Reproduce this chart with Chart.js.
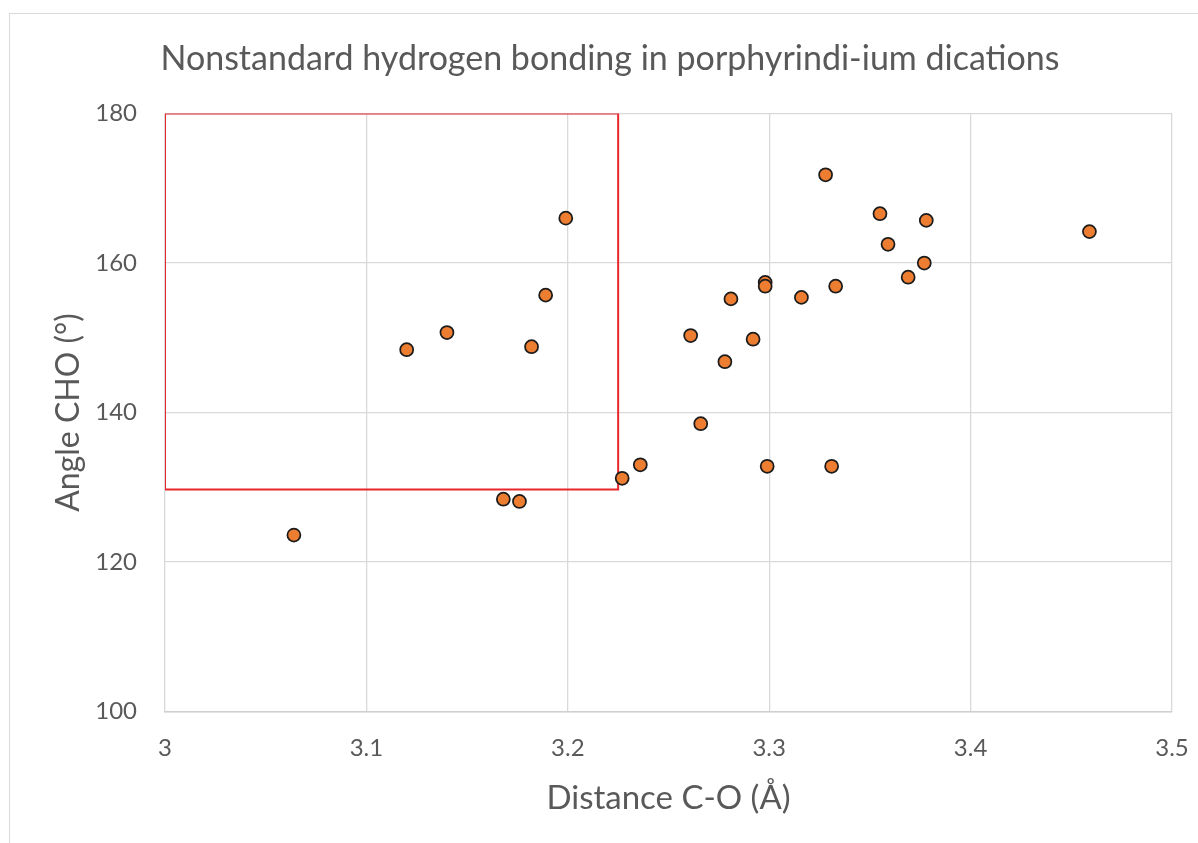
<!DOCTYPE html>
<html>
<head>
<meta charset="utf-8">
<title>Nonstandard hydrogen bonding in porphyrindi-ium dications</title>
<script src="https://cdn.jsdelivr.net/npm/chart.js@4.4.1/dist/chart.umd.min.js"></script>
<style>
  html, body { margin: 0; padding: 0; background: #ffffff; overflow: hidden; }
  #frame {
    position: absolute; left: 9px; top: 13px; width: 1300px; height: 900px;
    border: 1.5px solid #d9d9d9; box-sizing: border-box;
  }
  #chart { position: absolute; left: 0; top: 0; }
</style>
</head>
<body>
<div id="frame"></div>
<canvas id="chart" width="1198" height="843"></canvas>
<script>
// C-O distance (Å) and C-H...O angle (°) for each contact
const distanceCO = [3.064, 3.120, 3.140, 3.168, 3.176, 3.182, 3.189, 3.199, 3.227, 3.236,
                    3.261, 3.266, 3.278, 3.281, 3.292, 3.298, 3.298, 3.299, 3.316, 3.328,
                    3.331, 3.333, 3.355, 3.359, 3.369, 3.377, 3.378, 3.459];
const angleCHO   = [123.6, 148.4, 150.7, 128.4, 128.1, 148.8, 155.7, 166.0, 131.2, 133.0,
                    150.3, 138.5, 146.8, 155.2, 149.8, 157.4, 156.9, 132.8, 155.4, 171.8,
                    132.8, 156.9, 166.6, 162.5, 158.1, 160.0, 165.7, 164.2];

// Region outlined in red: distance range and angle range
const regionDistance = [3.0, 3.225];
const regionAngle = [129.7, 180];

const xTickLabels = ['3', '3.1', '3.2', '3.3', '3.4', '3.5'];
const yTickLabels = ['100', '120', '140', '160', '180'];

const points = distanceCO.map((d, i) => ({ x: d, y: angleCHO[i] }));
const regionOutline = [
  { x: regionDistance[0], y: regionAngle[1] },
  { x: regionDistance[1], y: regionAngle[1] },
  { x: regionDistance[1], y: regionAngle[0] },
  { x: regionDistance[0], y: regionAngle[0] },
  { x: regionDistance[0], y: regionAngle[1] }
];

const textColor = '#595959';
const gridColor = '#d9d9d9';
const family = "Lato, 'Open Sans', 'DejaVu Sans', sans-serif";

new Chart(document.getElementById('chart'), {
  type: 'scatter',
  data: {
    datasets: [
      {
        label: 'Contacts',
        data: points,
        backgroundColor: '#ed7d31',
        borderColor: '#1c1c1c',
        borderWidth: 1.75,
        pointRadius: 6.5,
        order: 0
      },
      {
        type: 'line',
        label: 'Region',
        data: regionOutline,
        borderColor: '#e8262b',
        borderWidth: 2,
        pointRadius: 0,
        fill: false,
        tension: 0,
        showLine: true,
        order: 1
      }
    ]
  },
  options: {
    responsive: false,
    animation: false,
    layout: { padding: { left: 48, right: 26, top: 0, bottom: 0 } },
    plugins: {
      legend: { display: false },
      tooltip: { enabled: false },
      title: {
        display: true,
        text: 'Nonstandard hydrogen bonding in porphyrindi-ium dications',
        color: textColor,
        font: { family, size: 34, weight: 'normal' },
        padding: { top: 38.6, bottom: 34.1 }
      }
    },
    scales: {
      x: {
        type: 'linear',
        min: 3,
        max: 3.5,
        ticks: {
          stepSize: 0.1,
          color: textColor,
          font: { family, size: 24 },
          padding: 22,
          callback: (v, i) => xTickLabels[i]
        },
        grid: { color: gridColor, lineWidth: 1.3, drawTicks: false },
        border: { display: true, color: '#cfcfcf', width: 1.5 },
        title: {
          display: true,
          text: 'Distance C-O (Å)',
          color: textColor,
          font: { family, size: 33 },
          padding: { top: 0, bottom: 25 }
        },
        afterFit: (scale) => {
          scale.height = 131.5;
          scale.paddingLeft = 0;
          scale.paddingRight = 0;
        }
      },
      y: {
        type: 'linear',
        min: 100,
        max: 180,
        ticks: {
          stepSize: 20,
          color: textColor,
          font: { family, size: 24 },
          padding: 28,
          callback: (v, i) => yTickLabels[i]
        },
        grid: { color: gridColor, lineWidth: 1.3, drawTicks: false },
        border: { display: false },
        title: {
          display: true,
          text: 'Angle CHO (°)',
          color: textColor,
          font: { family, size: 32 },
          padding: { top: 1.8, bottom: 0 }
        },
        afterFit: (scale) => {
          scale.width = 117;
          scale.paddingTop = 0;
          scale.paddingBottom = 0;
        }
      }
    }
  }
});
</script>
</body>
</html>
